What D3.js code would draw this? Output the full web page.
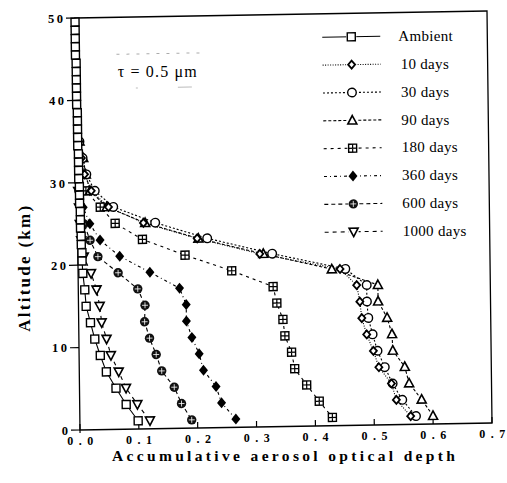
<!DOCTYPE html>
<html><head><meta charset="utf-8">
<script src="https://cdn.jsdelivr.net/npm/d3@7"></script>
<style>html,body{margin:0;padding:0;background:#fff;}svg{display:block;}</style>
</head><body>
<svg id="chart" width="507" height="483"></svg>
<script>
// ---- data ----
const xTicks = [0, 0.1, 0.2, 0.3, 0.4, 0.5, 0.6, 0.7];
const xTickLabels = ["0.0","0.1","0.2","0.3","0.4","0.5","0.6","0.7"];
const yTicks = [0, 10, 20, 30, 40, 50];
const yTickLabels = ["0","10","20","30","40","50"];
const seriesNames = ["Ambient","10 days","30 days","90 days","180 days","360 days","600 days","1000 days"];

const ambientAlt = [49.5,48.5,47.5,46.5,45.5,44.5,43.5,42.5,41.5,40.5,39.5,38.5,37.5,36.5,35.5,34.5,33.5,32.5,31.5,30.5,29.5,28.5,27.5,26.5,25.5,24.5,23.5,22.5,21.5,20.5,19,17,15,13,11,9,7,5,3,1];
const ambientAod = [0,0,0,0,0,0.001,0.001,0.001,0.001,0.001,0.001,0.002,0.002,0.002,0.002,0.002,0.003,0.003,0.003,0.003,0.004,0.004,0.004,0.005,0.005,0.005,0.006,0.006,0.007,0.007,0.008,0.011,0.013,0.020,0.027,0.036,0.046,0.062,0.079,0.099];

const shortAlt = [35,33,31,29,27,25,23,21,19,17,15,13,11,9,7,5,3,1];
const d10Aod = [0.004,0.008,0.013,0.024,0.053,0.112,0.203,0.309,0.445,0.473,0.478,0.481,0.489,0.500,0.509,0.530,0.538,0.562];
const d30Aod = [0.005,0.010,0.016,0.030,0.061,0.132,0.220,0.330,0.454,0.490,0.490,0.492,0.499,0.507,0.519,0.532,0.548,0.571];
const d90Aod = [0.005,0.011,0.015,0.022,0.050,0.115,0.205,0.315,0.431,0.509,0.509,0.524,0.532,0.533,0.553,0.560,0.581,0.600];

const d180Alt = [31,29,27,25,23,21,19,17,15,13,11,9,7,5,3,1];
const d180Aod = [0.006,0.015,0.039,0.064,0.110,0.182,0.261,0.331,0.337,0.347,0.350,0.361,0.366,0.386,0.407,0.429];

const lowAlt = [29,27,25,23,21,19,17,15,13,11,9,7,5,3,1];
const d360Aod = [0.004,0.010,0.021,0.038,0.071,0.122,0.172,0.183,0.183,0.192,0.204,0.211,0.232,0.241,0.265];
const d600Aod = [0.003,0.006,0.011,0.021,0.034,0.068,0.101,0.113,0.112,0.120,0.131,0.140,0.161,0.173,0.190];
const d1000Aod = [0.002,0.003,0.004,0.006,0.010,0.022,0.031,0.036,0.039,0.047,0.054,0.067,0.079,0.098,0.119];

// ---- build ----
const series = [
  {name: seriesNames[0], alt: ambientAlt, aod: ambientAod, marker: "square", dash: null},
  {name: seriesNames[1], alt: shortAlt, aod: d10Aod, marker: "odiamond", dash: "1,1.5"},
  {name: seriesNames[2], alt: shortAlt, aod: d30Aod, marker: "ocircle", dash: "2,2"},
  {name: seriesNames[3], alt: shortAlt, aod: d90Aod, marker: "triangle", dash: "3,2"},
  {name: seriesNames[4], alt: d180Alt, aod: d180Aod, marker: "xsquare", dash: "3,4"},
  {name: seriesNames[5], alt: lowAlt, aod: d360Aod, marker: "fdiamond", dash: "3,3,1,3"},
  {name: seriesNames[6], alt: lowAlt, aod: d600Aod, marker: "fcircle", dash: "4,3"},
  {name: seriesNames[7], alt: lowAlt, aod: d1000Aod, marker: "itriangle", dash: "4,4"}
];

const svg = d3.select("#chart");
const X0 = 80, Y0 = 430;
const b = -7/412, c = 5/412;
// slight scan skew of the original figure
const g = svg.append("g")
  .attr("transform", `translate(${X0},${Y0}) matrix(1,${b},${c},1,0,0) translate(${-X0},${-Y0})`);
const tg = svg.append("g"); // unskewed text layer
function proj(px, py) {
  return [X0 + (px - X0) + c * (py - Y0), Y0 + b * (px - X0) + (py - Y0)];
}

const x = d3.scaleLinear().domain([0, 0.7]).range([80, 492]);
const y = d3.scaleLinear().domain([0, 50]).range([430, 18]);

const serif = "'Liberation Serif','Times New Roman',serif";

// frame
g.append("rect").attr("x", x(0)).attr("y", y(50)).attr("width", x(0.7)-x(0)).attr("height", y(0)-y(50))
  .attr("fill", "none").attr("stroke", "#000").attr("stroke-width", 1.3);

// x ticks (inward)
g.selectAll(".xt").data(xTicks).enter().append("line")
  .attr("x1", d => x(d)).attr("x2", d => x(d)).attr("y1", y(0)).attr("y2", y(0) - 6)
  .attr("stroke", "#000").attr("stroke-width", 1.2);
g.append("line").attr("x1", x(0)).attr("x2", x(0)).attr("y1", y(0)).attr("y2", y(0)+3).attr("stroke","#000").attr("stroke-width",1.2);
tg.selectAll(".xl").data(xTicks).enter().append("text")
  .attr("x", d => proj(x(d), 444.5)[0]).attr("y", d => proj(x(d), 444.5)[1]).attr("text-anchor", "middle")
  .attr("font-family", serif).attr("font-weight", "bold").attr("font-size", 12)
  .attr("textLength", 26).attr("lengthAdjust", "spacing")
  .text((d, i) => xTickLabels[i]);

// y ticks (outward)
g.selectAll(".yt").data(yTicks).enter().append("line")
  .attr("x1", x(0) - 9).attr("x2", x(0)).attr("y1", d => y(d)).attr("y2", d => y(d))
  .attr("stroke", "#000").attr("stroke-width", 1.2);
tg.selectAll(".yl").data(yTicks).enter().append("text")
  .attr("x", d => proj(x(0) - 12, y(d) + 4.5)[0]).attr("y", d => proj(x(0) - 12, y(d) + 4.5)[1])
  .attr("text-anchor", "end")
  .attr("font-family", serif).attr("font-weight", "bold").attr("font-size", 12.5)
  .attr("textLength", (d, i) => yTickLabels[i].length * 7.5).attr("lengthAdjust", "spacing")
  .text((d, i) => yTickLabels[i]);

// axis titles
const tp = proj(283, 464.5);
tg.append("text").attr("x", tp[0]).attr("y", tp[1]).attr("text-anchor", "middle")
  .attr("font-family", serif).attr("font-weight", "bold").attr("font-size", 15.5)
  .attr("textLength", 343).attr("lengthAdjust", "spacing")
  .text("Accumulative aerosol optical depth");
const yp = proj(32, 268);
tg.append("text").attr("transform", `translate(${yp[0]},${yp[1]}) rotate(-90)`).attr("text-anchor", "middle")
  .attr("font-family", serif).attr("font-weight", "bold").attr("font-size", 17)
  .attr("textLength", 126).attr("lengthAdjust", "spacing")
  .text("Altitude (km)");

// annotation
g.append("line").attr("x1", 121).attr("x2", 205).attr("y1", 55).attr("y2", 55)
  .attr("stroke", "#aaa").attr("stroke-width", 1).attr("stroke-dasharray", "3,7");
g.append("line").attr("x1", 140).attr("x2", 205).attr("y1", 89).attr("y2", 89)
  .attr("stroke", "#bbb").attr("stroke-width", 1).attr("stroke-dasharray", "2,40,12,0");
const ap = proj(122, 78);
tg.append("text").attr("x", ap[0]).attr("y", ap[1]).attr("font-family", serif).attr("font-size", 16)
  .attr("textLength", 79).attr("lengthAdjust", "spacing")
  .text("τ = 0.5 μm");

// marker drawer
function drawMarker(sel, type) {
  const sw = 1.4;
  if (type === "square") {
    sel.append("rect").attr("x", -4).attr("y", -4).attr("width", 8).attr("height", 8)
      .attr("fill", "#fff").attr("stroke", "#000").attr("stroke-width", sw);
  } else if (type === "odiamond") {
    sel.append("path").attr("d", "M0,-4L3.5,0L0,4L-3.5,0Z")
      .attr("fill", "#fff").attr("stroke", "#000").attr("stroke-width", 1.8);
  } else if (type === "ocircle") {
    sel.append("circle").attr("r", 4.3).attr("fill", "#fff").attr("stroke", "#000").attr("stroke-width", sw);
  } else if (type === "triangle") {
    sel.append("path").attr("d", "M0,-4.8L4.5,3.6L-4.5,3.6Z")
      .attr("fill", "#fff").attr("stroke", "#000").attr("stroke-width", 1.6);
  } else if (type === "xsquare") {
    sel.append("rect").attr("x", -4).attr("y", -4).attr("width", 8).attr("height", 8)
      .attr("fill", "#fff").attr("stroke", "#000").attr("stroke-width", sw);
    sel.append("path").attr("d", "M0,-4V4M-4,0H4").attr("stroke", "#000").attr("stroke-width", 1.2);
  } else if (type === "fdiamond") {
    sel.append("path").attr("d", "M0,-5.5L4.5,0L0,5.5L-4.5,0Z").attr("fill", "#000");
  } else if (type === "fcircle") {
    sel.append("circle").attr("r", 4.7).attr("fill", "#111");
    sel.append("path").attr("d", "M0,-3V3M-3,0H3").attr("stroke", "#fff").attr("stroke-width", 0.8);
  } else if (type === "itriangle") {
    sel.append("path").attr("d", "M0,4.8L4.5,-3.6L-4.5,-3.6Z")
      .attr("fill", "#fff").attr("stroke", "#000").attr("stroke-width", 1.6);
  }
}

// lines
const lineGen = d3.line().x(d => x(d[1])).y(d => y(d[0]));
series.forEach(s => {
  const pts = s.alt.map((a, i) => [a, s.aod[i]]);
  g.append("path").attr("d", lineGen(pts)).attr("fill", "none").attr("stroke", "#000")
    .attr("stroke-width", 1.1).attr("stroke-dasharray", s.dash);
});
// markers (draw later series first so ambient is on top)
series.slice().reverse().forEach(s => {
  const pts = s.alt.map((a, i) => [a, s.aod[i]]);
  g.selectAll(null).data(pts).enter().append("g")
    .attr("transform", d => `translate(${x(d[1])},${y(d[0])})`)
    .each(function() { drawMarker(d3.select(this), s.marker); });
});

// legend
const legY0 = 41.5, legStep = 27.85;
series.forEach((s, i) => {
  const ly = legY0 + i * legStep;
  g.append("line").attr("x1", 327).attr("x2", 385).attr("y1", ly).attr("y2", ly)
    .attr("stroke", "#000").attr("stroke-width", 1.1).attr("stroke-dasharray", s.dash);
  const m = g.append("g").attr("transform", `translate(356,${ly})`);
  m.append("rect").attr("x", -5).attr("y", -5).attr("width", 10).attr("height", 10).attr("fill", "#fff");
  drawMarker(m, s.marker);
  const lp = proj(i === 0 ? 403 : 405, ly + 5);
  tg.append("text").attr("x", lp[0]).attr("y", lp[1])
    .attr("font-family", serif).attr("font-size", 15).attr("letter-spacing", 0.3)
    .text(s.name);
});
</script>
</body></html>
